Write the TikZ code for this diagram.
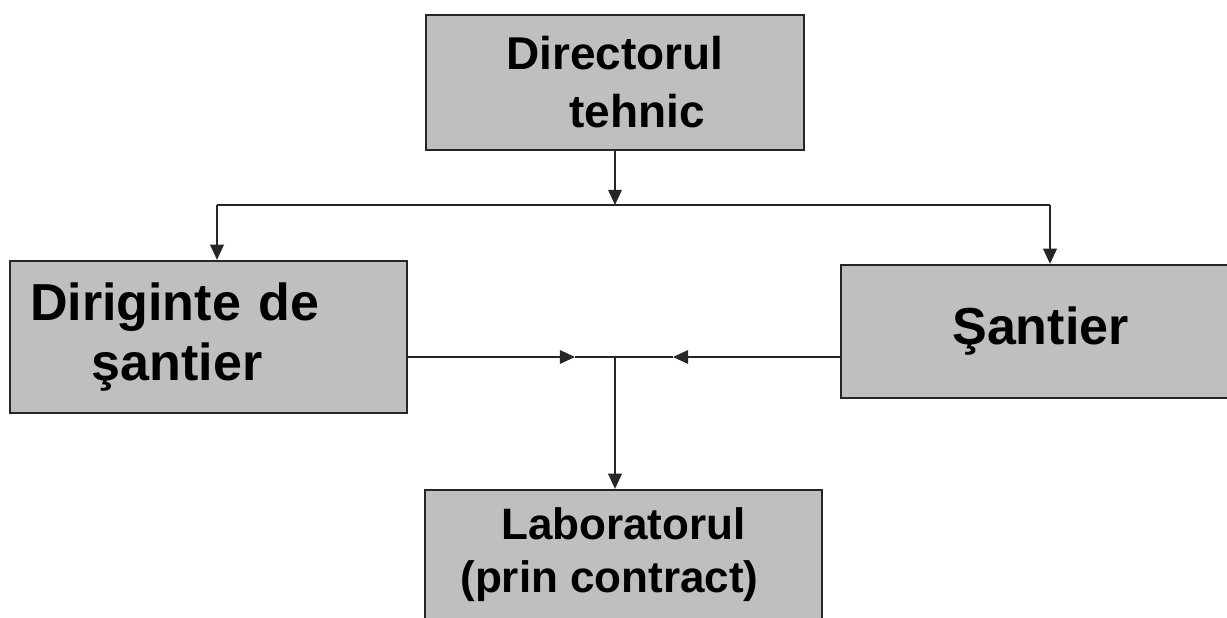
\documentclass[tikz,border=0pt]{standalone}
\usepackage{fontspec}
\setmainfont{Liberation Sans}
\usetikzlibrary{arrows.meta}
\definecolor{boxgray}{HTML}{BFBFC1}
\definecolor{inkline}{HTML}{262626}

\begin{document}
\begin{tikzpicture}[
    box/.style={draw=inkline, line width=1.6pt, fill=boxgray},
    link/.style={draw=inkline, line width=1.3pt},
    tip/.style={-{Triangle[length=0.38cm, width=0.34cm]}}
  ]
  \useasboundingbox[fill=white] (0,0) rectangle (30.675,15.45);

  % Box for the technical director
  \node[box, minimum width=9.45cm, minimum height=3.375cm, align=center,
        font=\bfseries\fontsize{32.7}{41.3}\selectfont] (dir) at (15.375,13.3875)
        {Directorul\\ \hspace*{1.1cm}tehnic};

  % Box for the site supervisor
  \node[box, minimum height=3.8cm, inner xsep=0.5cm, text width=8.925cm, align=left,
        font=\bfseries\fontsize{37}{42.7}\selectfont] (dirig) at (5.2125,7.025)
        {Diriginte de\\ \hspace*{1.55cm}şantier};

  % Box for the site
  \node[box, minimum width=9.975cm, minimum height=3.325cm, align=center,
        font=\bfseries\fontsize{37}{42.7}\selectfont] (sant) at (26.0125,7.1625)
        {Şantier};

  % Box for the laboratory
  \node[box, minimum width=9.925cm, minimum height=3.25cm, align=center,
        font=\bfseries\fontsize{31.3}{37.7}\selectfont] (lab) at (15.5875,1.575)
        {Laboratorul\\ (prin contract)\hspace*{0.7cm}};

  % Bus under the director
  \coordinate (busM) at (15.375,10.325);
  \coordinate (busL) at (5.425,10.325);
  \coordinate (busR) at (26.25,10.325);
  \draw[link, tip] (dir.south) -- (busM);
  \draw[link] (busL) -- (busR);
  \draw[link, tip] (busL) -- (busL |- dirig.north);
  \draw[link, tip] (busR) -- (busR |- sant.north);

  % Links meeting above the laboratory
  \coordinate (mid) at (15.375,6.525);
  \coordinate (tipL) at (14.375,6.525);
  \coordinate (tipR) at (16.825,6.525);
  \draw[link, tip] (dirig.east |- mid) -- (tipL);
  \draw[link] (tipL) -- (tipR);
  \draw[link, tip] (sant.west |- mid) -- (tipR);
  \draw[link, tip] (mid) -- (mid |- lab.north);
\end{tikzpicture}
\end{document}
